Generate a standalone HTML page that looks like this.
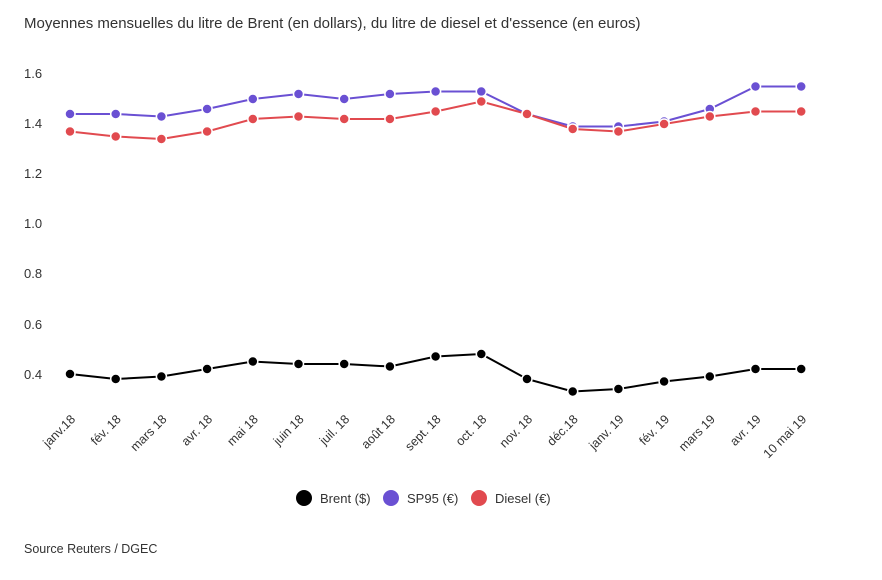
<!DOCTYPE html>
<html><head><meta charset="utf-8"><style>
body{margin:0;background:#fff;font-family:"Liberation Sans",sans-serif;}
svg text{font-family:"Liberation Sans",sans-serif;fill:#333;}
</style></head><body>
<svg width="882" height="575" viewBox="0 0 882 575" xmlns="http://www.w3.org/2000/svg">
<text x="24" y="28" font-size="15" fill="#333">Moyennes mensuelles du litre de Brent (en dollars), du litre de diesel et d'essence (en euros)</text>
<g font-size="13" fill="#555" text-anchor="start">
<text x="24" y="78">1.6</text><text x="24" y="128">1.4</text><text x="24" y="178">1.2</text><text x="24" y="228">1.0</text><text x="24" y="278">0.8</text><text x="24" y="329">0.6</text><text x="24" y="379">0.4</text>
</g>
<g fill="none" stroke-width="2">
<polyline stroke="#6a50d3" points="70,114 115.7,114 161.4,116.5 207.1,109 252.8,99 298.5,94 344.2,99 389.9,94 435.6,91.5 481.3,91.5 527,114 572.7,126.5 618.4,126.5 664.1,121.5 709.8,109 755.5,86.5 801.2,86.5"/>
<polyline stroke="#e14a4f" points="70,131.5 115.7,136.5 161.4,139 207.1,131.5 252.8,119 298.5,116.5 344.2,119 389.9,119 435.6,111.5 481.3,101.5 527,114 572.7,129 618.4,131.5 664.1,124 709.8,116.5 755.5,111.5 801.2,111.5"/>
<polyline stroke="#000" points="70,374 115.7,379 161.4,376.5 207.1,369 252.8,361.5 298.5,364 344.2,364 389.9,366.5 435.6,356.5 481.3,354 527,379 572.7,391.5 618.4,389 664.1,381.5 709.8,376.5 755.5,369 801.2,369"/>
</g>
<g stroke="#fff" stroke-width="1.5">
<g fill="#6a50d3">
<circle cx="70" cy="114" r="5"/><circle cx="115.7" cy="114" r="5"/><circle cx="161.4" cy="116.5" r="5"/><circle cx="207.1" cy="109" r="5"/><circle cx="252.8" cy="99" r="5"/><circle cx="298.5" cy="94" r="5"/><circle cx="344.2" cy="99" r="5"/><circle cx="389.9" cy="94" r="5"/><circle cx="435.6" cy="91.5" r="5"/><circle cx="481.3" cy="91.5" r="5"/><circle cx="527" cy="114" r="5"/><circle cx="572.7" cy="126.5" r="5"/><circle cx="618.4" cy="126.5" r="5"/><circle cx="664.1" cy="121.5" r="5"/><circle cx="709.8" cy="109" r="5"/><circle cx="755.5" cy="86.5" r="5"/><circle cx="801.2" cy="86.5" r="5"/>
</g>
<g fill="#e14a4f">
<circle cx="70" cy="131.5" r="5"/><circle cx="115.7" cy="136.5" r="5"/><circle cx="161.4" cy="139" r="5"/><circle cx="207.1" cy="131.5" r="5"/><circle cx="252.8" cy="119" r="5"/><circle cx="298.5" cy="116.5" r="5"/><circle cx="344.2" cy="119" r="5"/><circle cx="389.9" cy="119" r="5"/><circle cx="435.6" cy="111.5" r="5"/><circle cx="481.3" cy="101.5" r="5"/><circle cx="527" cy="114" r="5"/><circle cx="572.7" cy="129" r="5"/><circle cx="618.4" cy="131.5" r="5"/><circle cx="664.1" cy="124" r="5"/><circle cx="709.8" cy="116.5" r="5"/><circle cx="755.5" cy="111.5" r="5"/><circle cx="801.2" cy="111.5" r="5"/>
</g>
<g fill="#000">
<circle cx="70" cy="374" r="5"/><circle cx="115.7" cy="379" r="5"/><circle cx="161.4" cy="376.5" r="5"/><circle cx="207.1" cy="369" r="5"/><circle cx="252.8" cy="361.5" r="5"/><circle cx="298.5" cy="364" r="5"/><circle cx="344.2" cy="364" r="5"/><circle cx="389.9" cy="366.5" r="5"/><circle cx="435.6" cy="356.5" r="5"/><circle cx="481.3" cy="354" r="5"/><circle cx="527" cy="379" r="5"/><circle cx="572.7" cy="391.5" r="5"/><circle cx="618.4" cy="389" r="5"/><circle cx="664.1" cy="381.5" r="5"/><circle cx="709.8" cy="376.5" r="5"/><circle cx="755.5" cy="369" r="5"/><circle cx="801.2" cy="369" r="5"/>
</g>
</g>
<g font-size="12.5" fill="#333" text-anchor="end">
<text transform="translate(76,420) rotate(-45)">janv.18</text>
<text transform="translate(121.7,420) rotate(-45)">fév. 18</text>
<text transform="translate(167.4,420) rotate(-45)">mars 18</text>
<text transform="translate(213.1,420) rotate(-45)">avr. 18</text>
<text transform="translate(258.8,420) rotate(-45)">mai 18</text>
<text transform="translate(304.5,420) rotate(-45)">juin 18</text>
<text transform="translate(350.2,420) rotate(-45)">juil. 18</text>
<text transform="translate(395.9,420) rotate(-45)">août 18</text>
<text transform="translate(441.6,420) rotate(-45)">sept. 18</text>
<text transform="translate(487.3,420) rotate(-45)">oct. 18</text>
<text transform="translate(533,420) rotate(-45)">nov. 18</text>
<text transform="translate(578.7,420) rotate(-45)">déc.18</text>
<text transform="translate(624.4,420) rotate(-45)">janv. 19</text>
<text transform="translate(670.1,420) rotate(-45)">fév. 19</text>
<text transform="translate(715.8,420) rotate(-45)">mars 19</text>
<text transform="translate(761.5,420) rotate(-45)">avr. 19</text>
<text transform="translate(807.2,420) rotate(-45)">10 mai 19</text>
</g>
<g font-size="13">
<circle cx="304" cy="498" r="8" fill="#000"/><text x="320" y="503">Brent ($)</text>
<circle cx="391" cy="498" r="8" fill="#6a50d3"/><text x="407" y="503">SP95 (€)</text>
<circle cx="479" cy="498" r="8" fill="#e14a4f"/><text x="495" y="503">Diesel (€)</text>
</g>
<text x="24" y="553" font-size="12.5" fill="#333">Source Reuters / DGEC</text>
</svg>
</body></html>
